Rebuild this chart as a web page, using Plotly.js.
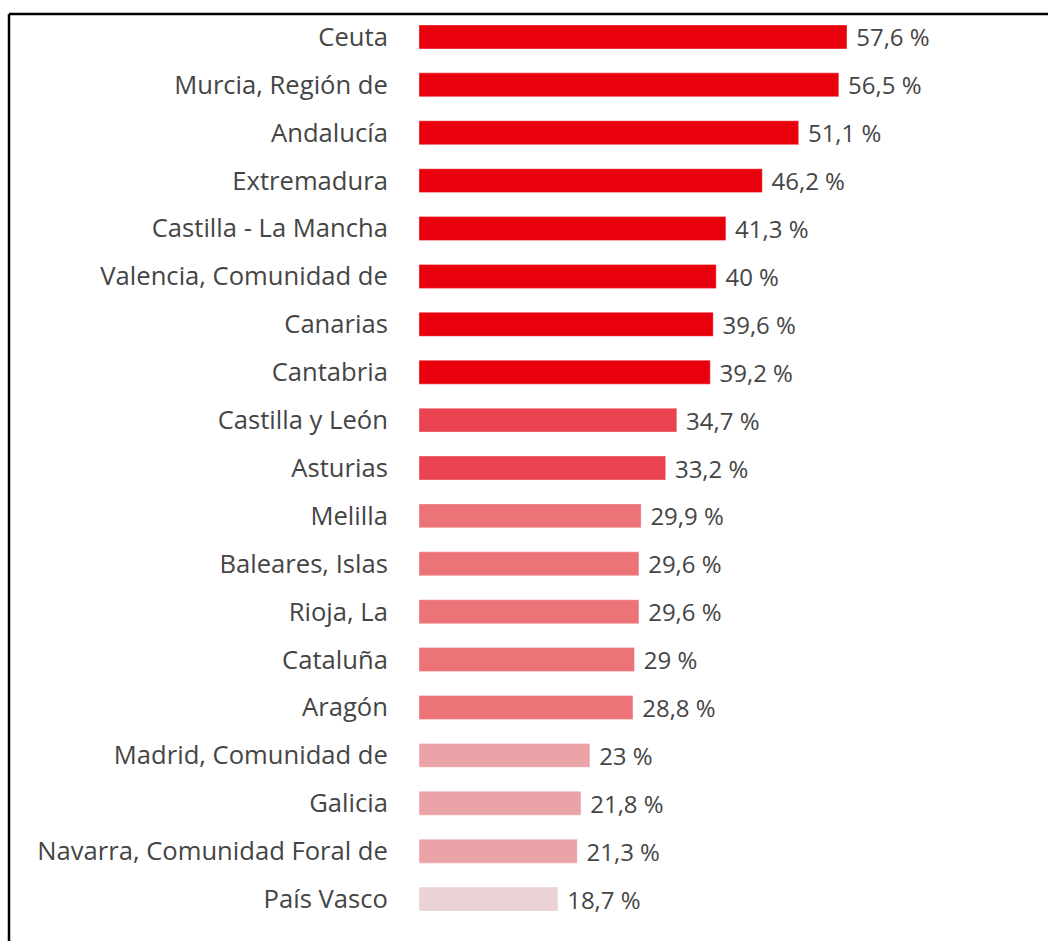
<!DOCTYPE html>
<html>
<head>
<meta charset="utf-8">
<script src="https://cdn.plot.ly/plotly-3.0.1.min.js"></script>
<style>
html,body{margin:0;padding:0;background:#fff;}
#chart{width:1048px;height:941px;}
</style>
</head>
<body>
<div id="chart"></div>
<script>
const regions = ["Ceuta","Murcia, Región de","Andalucía","Extremadura","Castilla - La Mancha","Valencia, Comunidad de","Canarias","Cantabria","Castilla y León","Asturias","Melilla","Baleares, Islas","Rioja, La","Cataluña","Aragón","Madrid, Comunidad de","Galicia","Navarra, Comunidad Foral de","País Vasco"];
const values = [57.6,56.5,51.1,46.2,41.3,40,39.6,39.2,34.7,33.2,29.9,29.6,29.6,29,28.8,23,21.8,21.3,18.7];
const barColors = ["#E8000D","#E8000D","#E8000D","#E8000D","#E8000D","#E8000D","#E8000D","#E8000D","#E8434F","#E8434F","#EC7479","#EC7479","#EC7479","#EC7479","#EC7479","#EAA3A7","#EAA3A7","#EAA3A7","#EBD3D5"];
const valueLabels = values.map(v => ' ' + String(v).replace('.', ',') + ' %');

const W = 1048, H = 941, L = 419, R = 0, T = 13, B = 18;
const pw = W - L - R, ph = H - T - B;

const trace = {
  type: 'bar',
  orientation: 'h',
  y: regions,
  x: values,
  text: valueLabels,
  textposition: 'outside',
  constraintext: 'none',
  cliponaxis: false,
  textfont: {family: 'Open Sans', size: 24, color: '#454545'},
  width: 0.5,
  marker: {color: barColors, line: {color: 'rgba(255,255,255,0.35)', width: 1}},
  hoverinfo: 'skip'
};

const layout = {
  width: W, height: H,
  margin: {l: L, r: R, t: T, b: B, pad: 0},
  paper_bgcolor: '#fff', plot_bgcolor: '#fff',
  showlegend: false,
  font: {family: 'Open Sans', color: '#454545'},
  xaxis: {range: [0, pw / 7.43], visible: false, fixedrange: true},
  yaxis: {
    type: 'category', autorange: 'reversed', automargin: false,
    showgrid: false, zeroline: false, showline: false,
    ticks: 'outside', ticklen: 25, tickcolor: 'rgba(0,0,0,0)',
    tickfont: {family: 'Open Sans', size: 25.6, color: '#454545'}
  },
  shapes: [
    {type: 'line', xref: 'paper', yref: 'paper', x0: (9 - L) / pw, x1: 1.01, y0: 1 - 1 / ph, y1: 1 - 1 / ph, line: {color: '#000', width: 2.5}},
    {type: 'line', xref: 'paper', yref: 'paper', x0: (9 - L) / pw, x1: (9 - L) / pw, y0: 1 - 1 / ph, y1: -0.05, line: {color: '#000', width: 2.5}}
  ]
};

Plotly.newPlot('chart', [trace], layout, {displayModeBar: false, staticPlot: true});
</script>
</body>
</html>
